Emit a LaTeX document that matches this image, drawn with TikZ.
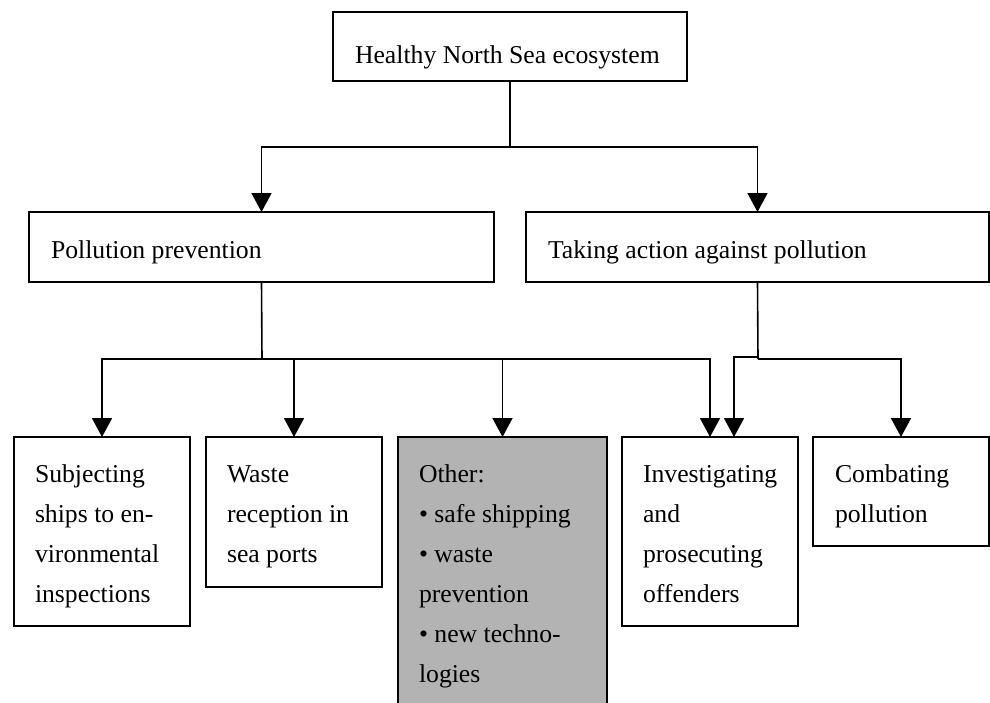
\documentclass[tikz,border=0pt]{standalone}
\usepackage{fontspec}
\setmainfont{Liberation Serif}
\usetikzlibrary{arrows.meta,calc}
\definecolor{boxgray}{RGB}{179,179,179}
\begin{document}
\begin{tikzpicture}[x=1pt,y=-1pt,
  box/.style={draw=black,line width=1.5pt,rectangle,inner sep=0pt,outer sep=0pt,anchor=north west},
  txt/.style={inner sep=0pt,outer sep=0pt,anchor=base west,align=left,
    font=\fontsize{25.7}{40}\selectfont},
  conn/.style={line width=1.6pt,draw=black},
  arr/.style={conn,-{Triangle[width=20pt,length=19pt]}}]
\useasboundingbox (0,0) rectangle (990,702);
\begin{scope}
\clip (0,0) rectangle (990,702);
% boxes
\node[box,minimum width=354pt,minimum height=69pt] (top) at (333,12) {};
\node[box,minimum width=465pt,minimum height=70pt] (pp) at (29,212) {};
\node[box,minimum width=463pt,minimum height=70pt] (tap) at (526,212) {};
\node[box,minimum width=176pt,minimum height=189pt] (b1) at (14,437) {};
\node[box,minimum width=176pt,minimum height=150pt] (b2) at (206,437) {};
\node[box,fill=boxgray,minimum width=209pt,minimum height=275pt] (b3) at (398,437) {};
\node[box,minimum width=176pt,minimum height=189pt] (b4) at (622,437) {};
\node[box,minimum width=176pt,minimum height=109pt] (b5) at (813,437) {};
% texts (anchor = baseline of the last line)
\node[txt] (ttop) at (355,63) {Healthy North Sea ecosystem};
\node[txt] (tpp) at (51,258) {Pollution prevention};
\node[txt] (ttap) at (548,258) {Taking action against pollution};
\node[txt] (tb1) at (35,602) {Subjecting\\ships to en-\\vironmental\\inspections};
\node[txt] (tb2) at (227,562) {Waste\\reception in\\sea ports};
\node[txt] (tb3) at (419,682) {Other:\\• safe shipping\\• waste\\prevention\\• new techno-\\logies};
\node[txt] (tb4) at (643,602) {Investigating\\and\\prosecuting\\offenders};
\node[txt] (tb5) at (835,522) {Combating\\pollution};
\end{scope}
% connectors
\coordinate (j0) at (510,147);
\draw[conn] (top.south) -- (j0);
\draw[arr] (j0) -| (pp.north);
\draw[arr] (j0) -| (tap.north);
\coordinate (j1) at (262,359);
\draw[conn] (pp.south) -- (j1);
\draw[arr] (j1) -| (b1.north);
\draw[arr] (j1) -| (b2.north);
\draw[arr] (j1) -| (b3.north);
\draw[arr] (j1) -| (b4.north);
\coordinate (j2) at (758,359);
\coordinate (j3) at (758,357);
\draw[conn] (tap.south) -- (j2);
\draw[arr] (j2) -| (b5.north);
\draw[arr] (j3) -| ($(b4.north)+(24,0)$);
\end{tikzpicture}
\end{document}
